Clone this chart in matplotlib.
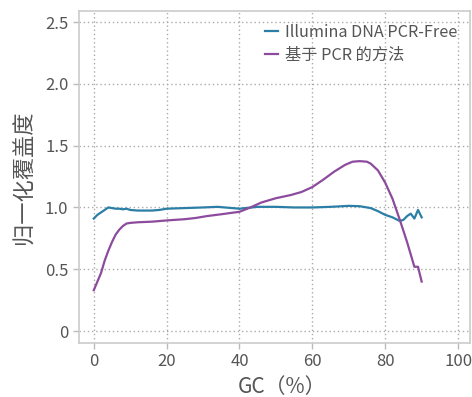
import numpy as np
import matplotlib.pyplot as plt

plt.rcParams['font.family'] = ['Noto Sans CJK SC', 'DejaVu Sans']

# GC content (%) and normalized coverage
gc_free = [0, 1, 2, 3, 4, 5, 6, 7, 8, 9, 10, 12, 14, 16, 18, 20, 25, 30, 34, 38, 40,
           45, 50, 55, 60, 65, 70, 73, 76, 78, 80, 82, 84, 85, 86, 87, 88, 89, 90]
cov_free = [0.91, 0.94, 0.96, 0.98, 1.00, 0.995, 0.99, 0.99, 0.985, 0.99, 0.98, 0.975,
            0.975, 0.975, 0.98, 0.99, 0.995, 1.0, 1.005, 0.995, 0.99,
            1.005, 1.005, 1.0, 1.0, 1.005, 1.013, 1.01, 0.995, 0.97, 0.94, 0.92, 0.89,
            0.90, 0.93, 0.95, 0.91, 0.98, 0.92]

gc_pcr = [0, 1, 2, 3, 4, 5, 6, 7, 8, 9, 10, 12, 16, 20, 25, 28, 31, 35, 40, 43, 46,
          50, 54, 57, 60, 63, 66, 69, 71, 73, 75, 76, 78, 80, 82, 84, 86, 87, 88, 89, 90]
cov_pcr = [0.33, 0.40, 0.47, 0.57, 0.65, 0.72, 0.78, 0.82, 0.85, 0.87, 0.875, 0.88,
           0.885, 0.895, 0.905, 0.915, 0.93, 0.945, 0.965, 1.0, 1.04,
           1.075, 1.10, 1.125, 1.165, 1.225, 1.29, 1.345, 1.37, 1.375, 1.37, 1.355,
           1.30, 1.20, 1.07, 0.90, 0.72, 0.62, 0.52, 0.52, 0.40]

text_c = '#555555'
fig = plt.figure(figsize=(4.72, 3.97), dpi=100)
ax = fig.add_axes([0.167, 0.136, 0.829, 0.836])

ax.plot(gc_free, cov_free, color='#2b7ea6', lw=1.6, label='Illumina DNA PCR-Free')
ax.plot(gc_pcr, cov_pcr, color='#8c4b9d', lw=1.6, label='基于 PCR 的方法')

ax.set_xlim(-4.1, 103.3)
ax.set_ylim(-0.097, 2.589)
ax.set_xticks([0, 20, 40, 60, 80, 100])
ax.set_yticks([0, 0.5, 1.0, 1.5, 2.0, 2.5])
ax.set_yticklabels(['0', '0.5', '1.0', '1.5', '2.0', '2.5'])
ax.grid(True, linestyle=(0, (1, 2)), color='#aaaaaa', lw=1)

for s in ax.spines.values():
    s.set_color('#cccccc')
    s.set_linewidth(1.2)
ax.tick_params(colors='#bbbbbb', labelcolor=text_c, labelsize=12, length=4, width=1)

ax.set_xlabel('GC（%）', fontsize=15, color=text_c)
ax.xaxis.set_label_coords(0.518, -0.098)
ax.set_ylabel('归一化覆盖度', fontsize=16, color=text_c, labelpad=7)

leg = ax.legend(loc='upper right', frameon=False, fontsize=11.7, handlelength=0.8,
                handletextpad=0.4, labelspacing=0.35, borderaxespad=0.4)
for t in leg.get_texts():
    t.set_color(text_c)

fig.savefig('out.png', dpi=100)
